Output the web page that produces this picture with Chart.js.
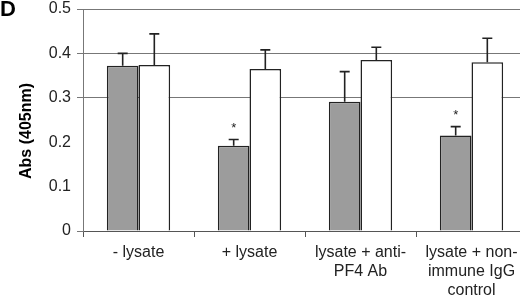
<!DOCTYPE html>
<html>
<head>
<meta charset="utf-8">
<script src="https://cdn.jsdelivr.net/npm/chart.js@4/dist/chart.umd.min.js"></script>
<style>
html,body{margin:0;padding:0;background:#fff;overflow:hidden;width:520px;height:302px;}
#wrap{position:absolute;left:0;top:0;width:540px;height:302px;}
</style>
</head>
<body>
<div id="wrap"><canvas id="c" width="540" height="302"></canvas></div>
<script>
const categories = [["- lysate"], ["+ lysate"], ["lysate + anti-", "PF4 Ab"], ["lysate + non-", "immune IgG", "control"]];
const grayValues = [0.372, 0.192, 0.291, 0.215];
const grayErrors = [0.028, 0.014, 0.068, 0.020];
const whiteValues = [0.374, 0.365, 0.385, 0.380];
const whiteErrors = [0.070, 0.043, 0.029, 0.054];
const grayStars = [false, true, false, true];
const yTicks = [0, 0.1, 0.2, 0.3, 0.4, 0.5];
const gridShown = [0, 0.3, 0.4, 0.5];
const panelLabel = "D";
const yTitle = "Abs (405nm)";

const FONT = "'Liberation Sans', Arial, sans-serif";

const errorBarPlugin = {
  id: 'errorBars',
  afterDatasetsDraw(chart) {
    const ctx = chart.ctx;
    const y = chart.scales.y;
    ctx.save();
    ctx.strokeStyle = '#222';
    ctx.lineWidth = 1.6;
    chart.data.datasets.forEach((ds, di) => {
      const meta = chart.getDatasetMeta(di);
      meta.data.forEach((bar, i) => {
        const v = ds.data[i];
        const e = ds.errors[i];
        const yTop = y.getPixelForValue(v + e);
        const yBase = y.getPixelForValue(v);
        ctx.beginPath();
        ctx.moveTo(bar.x, yBase);
        ctx.lineTo(bar.x, yTop);
        ctx.moveTo(bar.x - 5, yTop);
        ctx.lineTo(bar.x + 5, yTop);
        ctx.stroke();
        if (ds.stars && ds.stars[i]) {
          ctx.fillStyle = '#222';
          ctx.font = "13px " + FONT;
          ctx.textAlign = 'center';
          ctx.textBaseline = 'middle';
          ctx.fillText('*', bar.x, yTop - 11);
        }
      });
    });
    ctx.restore();
  }
};

const labelsPlugin = {
  id: 'panel',
  afterDraw(chart) {
    const ctx = chart.ctx;
    ctx.save();
    ctx.fillStyle = '#000';
    ctx.font = "bold 22px " + FONT;
    ctx.textAlign = 'left';
    ctx.textBaseline = 'top';
    ctx.fillText(panelLabel, 0, -1);
    ctx.translate(27, 131);
    ctx.rotate(-Math.PI / 2);
    ctx.font = "bold 16px " + FONT;
    ctx.textAlign = 'center';
    ctx.textBaseline = 'middle';
    ctx.fillText(yTitle, 0, 0);
    ctx.restore();
  }
};

new Chart(document.getElementById('c'), {
  type: 'bar',
  data: {
    labels: categories,
    datasets: [
      { data: grayValues, errors: grayErrors, stars: grayStars, backgroundColor: '#9c9c9c', borderColor: '#222', borderWidth: 1.5 },
      { data: whiteValues, errors: whiteErrors, backgroundColor: '#ffffff', borderColor: '#222', borderWidth: 1.5 }
    ]
  },
  options: {
    responsive: false,
    animation: false,
    events: [],
    layout: { padding: { left: 0, top: 9, right: 13, bottom: 0 } },
    datasets: { bar: { categoryPercentage: 0.57, barPercentage: 1.0 } },
    plugins: { legend: { display: false }, tooltip: { enabled: false } },
    scales: {
      x: {
        grid: { drawOnChartArea: false, offset: true, tickLength: 6, color: '#555', lineWidth: 1 },
        border: { color: '#555', width: 1 },
        ticks: { color: '#222', font: { family: FONT, size: 16 }, padding: 6, maxRotation: 0, autoSkip: false },
        afterFit(s) { s.height = 71; }
      },
      y: {
        min: 0, max: 0.5,
        afterBuildTicks(s) { s.ticks = yTicks.map(v => ({ value: v })); },
        grid: {
          tickLength: 6,
          lineWidth: 1,
          color: (c) => gridShown.some(v => Math.abs(v - c.tick.value) < 1e-9) ? '#777' : 'rgba(0,0,0,0)'
        },
        border: { color: '#777', width: 1 },
        ticks: {
          color: '#222', font: { family: FONT, size: 16, lineHeight: 1.0 }, padding: 6,
          callback: (v) => v === 0 ? '0' : Number(v).toFixed(1)
        },
        afterFit(s) { s.width = 83; s.paddingTop = 0; }
      }
    }
  },
  plugins: [errorBarPlugin, labelsPlugin]
});
</script>
</body>
</html>
